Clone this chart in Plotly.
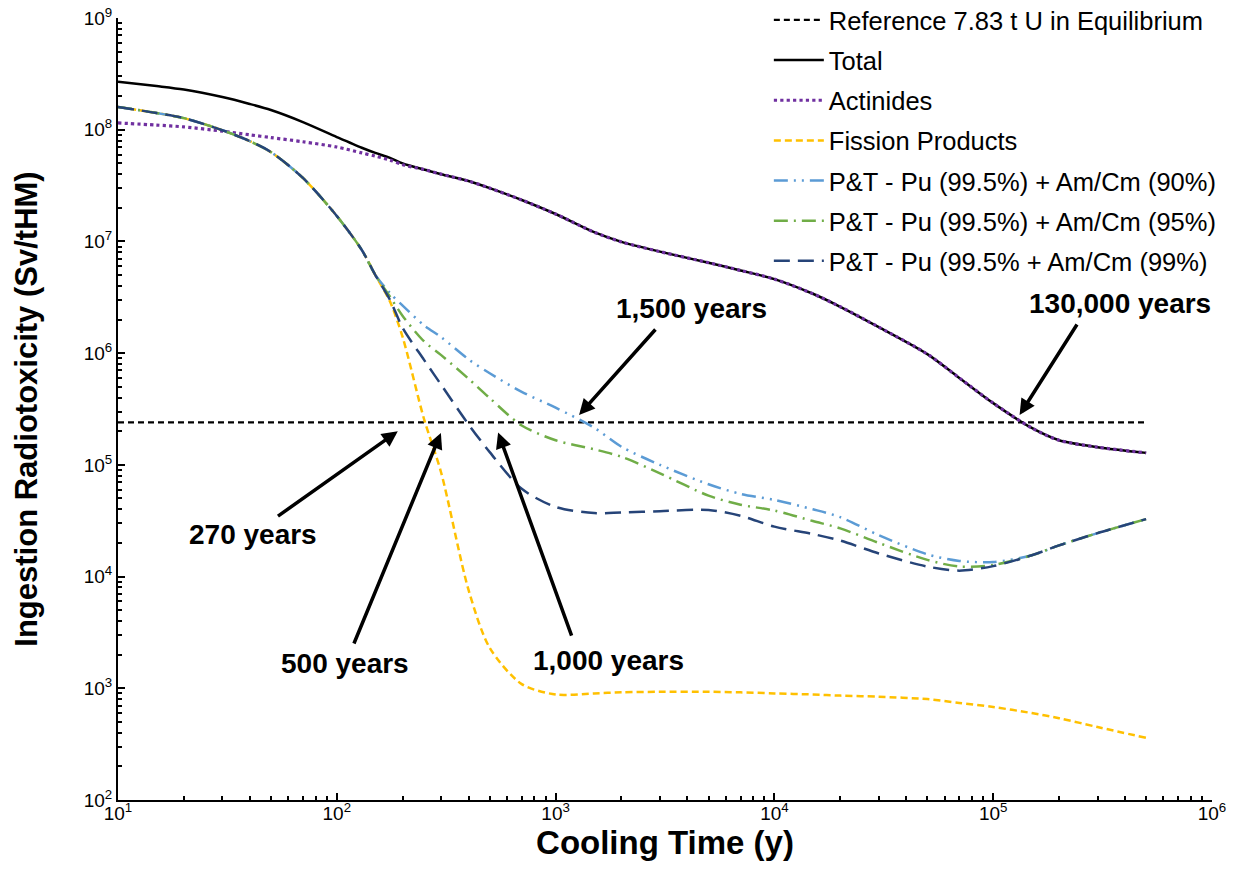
import numpy as np
import plotly.graph_objects as go

# ---------------- data ----------------
time_y = [10, 15, 20, 30, 40, 50, 70, 100, 130, 150, 175, 200, 250, 300, 400, 500, 700,
          1000, 1500, 2000, 3000, 5000, 7000, 1e4, 1.5e4, 2e4, 3e4, 5e4, 7e4, 1e5,
          1.5e5, 2e5, 3e5, 5e5]

total = [2.69e8, 2.46e8, 2.29e8, 1.96e8, 1.70e8, 1.50e8, 1.17e8, 8.6e7, 6.9e7, 6.2e7,
         5.6e7, 5.0e7, 4.4e7, 4.0e7, 3.47e7, 3.0e7, 2.35e7, 1.76e7, 1.21e7, 9.9e6,
         8.1e6, 6.45e6, 5.5e6, 4.6e6, 3.4e6, 2.6e6, 1.71e6, 9.8e5, 6.0e5, 3.57e5,
         2.14e5, 1.66e5, 1.44e5, 1.28e5]

actinides = [1.15e8, 1.10e8, 1.06e8, 9.7e7, 9.0e7, 8.5e7, 7.8e7, 7.0e7, 6.2e7, 5.8e7,
             5.35e7, 4.86e7, 4.4e7, 4.0e7, 3.47e7, 3.0e7, 2.35e7, 1.76e7, 1.21e7, 9.9e6,
             8.1e6, 6.45e6, 5.5e6, 4.6e6, 3.4e6, 2.6e6, 1.71e6, 9.8e5, 6.0e5, 3.57e5,
             2.14e5, 1.66e5, 1.44e5, 1.28e5]

fission_products = [1.60e8, 1.41e8, 1.27e8, 9.9e7, 7.9e7, 6.3e7, 3.7e7, 1.69e7, 8.4e6, 5.0e6,
                    2.9e6, 1.39e6, 2.6e5, 8.5e4, 7.6e3, 2.3e3, 1.09e3, 8.8e2, 9.0e2, 9.2e2,
                    9.3e2, 9.3e2, 9.2e2, 9.0e2, 8.8e2, 8.6e2, 8.4e2, 8.0e2, 7.4e2, 6.8e2,
                    6.0e2, 5.4e2, 4.5e2, 3.6e2]

pt_90 = [1.60e8, 1.41e8, 1.27e8, 9.9e7, 7.9e7, 6.3e7, 3.7e7, 1.69e7, 8.4e6, 5.0e6,
         3.45e6, 2.66e6, 1.78e6, 1.39e6, 8.8e5, 6.6e5, 4.5e5, 3.25e5, 2.15e5, 1.45e5,
         1.0e5, 6.7e4, 5.5e4, 4.85e4, 4.0e4, 3.4e4, 2.35e4, 1.58e4, 1.38e4, 1.35e4,
         1.55e4, 1.9e4, 2.45e4, 3.27e4]

pt_95 = [1.60e8, 1.41e8, 1.27e8, 9.9e7, 7.9e7, 6.3e7, 3.7e7, 1.69e7, 8.4e6, 5.0e6,
         3.2e6, 2.15e6, 1.28e6, 9.6e5, 5.9e5, 3.96e5, 2.25e5, 1.66e5, 1.38e5, 1.18e5,
         8.4e4, 5.3e4, 4.4e4, 3.9e4, 3.14e4, 2.7e4, 2.0e4, 1.41e4, 1.23e4, 1.27e4,
         1.55e4, 1.9e4, 2.45e4, 3.27e4]

pt_99 = [1.60e8, 1.41e8, 1.27e8, 9.9e7, 7.9e7, 6.3e7, 3.7e7, 1.69e7, 8.4e6, 5.0e6,
         3.0e6, 1.68e6, 8.75e5, 5.2e5, 2.3e5, 1.3e5, 6.1e4, 4.2e4, 3.7e4, 3.75e4,
         3.85e4, 3.95e4, 3.5e4, 2.8e4, 2.4e4, 2.1e4, 1.61e4, 1.23e4, 1.13e4, 1.24e4,
         1.55e4, 1.9e4, 2.45e4, 3.27e4]

ref_time = [10, 5e5]
ref_value = [2.4e5, 2.4e5]

x_tickvals = [1e1, 1e2, 1e3, 1e4, 1e5, 1e6]
x_ticktext = ["10<sup>1</sup>", "10<sup>2</sup>", "10<sup>3</sup>", "10<sup>4</sup>",
              "10<sup>5</sup>", "10<sup>6</sup>"]
y_tickvals = [1e2, 1e3, 1e4, 1e5, 1e6, 1e7, 1e8, 1e9]
y_ticktext = ["10<sup>2</sup>", "10<sup>3</sup>", "10<sup>4</sup>", "10<sup>5</sup>",
              "10<sup>6</sup>", "10<sup>7</sup>", "10<sup>8</sup>", "10<sup>9</sup>"]

# annotations: label, arrow tip (years, Sv), arrow tail (years, Sv), label centre (years, Sv)
ann_labels = ["270 years", "500 years", "1,000 years", "1,500 years", "130,000 years"]
ann_tip_x = [190, 299, 546, 1280, 1.32e5]
ann_tip_y = [2.0e5, 1.93e5, 1.95e5, 2.8e5, 2.8e5]
ann_tail_x = [53, 119, 1190, 2900, 2.44e5]
ann_tail_y = [3.4e4, 2.44e3, 2.87e3, 1.68e6, 1.86e6]
ann_text_x = [41.4, 109, 1738, 4200, 3.8e5]
ann_text_y = [2.36e4, 1.68e3, 1.79e3, 2.53e6, 2.81e6]

FONT = "Liberation Sans, Arial, sans-serif"

fig = go.Figure()

series = [
    ("Reference 7.83 t U in Equilibrium", ref_time, ref_value, "black", "6px,4px", 2.2),
    ("Total", time_y, total, "black", "solid", 2.5),
    ("Actinides", time_y, actinides, "#7030A0", "dot", 3.2),
    ("Fission Products", time_y, fission_products, "#FFC000", "7px,4px", 2.5),
    ("P&T - Pu (99.5%) + Am/Cm (90%)", time_y, pt_90, "#5B9BD5", "14px,6px,2px,6px,2px,6px", 2.5),
    ("P&T - Pu (99.5%) + Am/Cm (95%)", time_y, pt_95, "#70AD47", "14px,6px,2px,6px", 2.5),
    ("P&T - Pu (99.5% + Am/Cm (99%)", time_y, pt_99, "#264478", "16px,8px", 2.5),
]

for i, (name, xs, ys, col, dash, w) in enumerate(series):
    fig.add_trace(go.Scatter(
        x=xs, y=ys, name=name, mode="lines",
        line=dict(color=col, dash=dash, width=w, shape="spline", smoothing=0.8),
        legendgroup=f"g{i}",
    ))

for lab, tx, ty, ax, ay, lx, ly in zip(ann_labels, ann_tip_x, ann_tip_y, ann_tail_x,
                                        ann_tail_y, ann_text_x, ann_text_y):
    fig.add_annotation(x=np.log10(tx), y=np.log10(ty), ax=np.log10(ax), ay=np.log10(ay),
                       xref="x", yref="y", axref="x", ayref="y", text="",
                       showarrow=True, arrowhead=2, arrowsize=0.9, arrowwidth=3.5,
                       arrowcolor="black", standoff=0, startstandoff=0)
    fig.add_annotation(x=np.log10(lx), y=np.log10(ly), xref="x", yref="y",
                       text=f"<b>{lab}</b>", showarrow=False,
                       font=dict(family=FONT, size=28, color="black"))

axis_common = dict(
    type="log", showgrid=False, zeroline=False, showline=True, linecolor="black",
    linewidth=2, ticks="inside", ticklen=7, tickwidth=2, tickcolor="black",
    tickfont=dict(family=FONT, size=19, color="black"), automargin=False,
    ticklabeloverflow="allow",
    minor=dict(ticks="inside", ticklen=4, tickwidth=1.5, tickcolor="black", dtick="D1",
               showgrid=False),
)

fig.update_xaxes(range=[1, 6], tickvals=x_tickvals, ticktext=x_ticktext,
                 ticklabelstandoff=-5,
                 title=dict(text="<b>Cooling Time (y)</b>",
                            font=dict(family=FONT, size=33, color="black"), standoff=1),
                 **axis_common)
fig.update_yaxes(range=[2, 9], tickvals=y_tickvals, ticktext=y_ticktext,
                 title=dict(text="<b>Ingestion Radiotoxicity (Sv/tHM)</b>",
                            font=dict(family=FONT, size=31, color="black"), standoff=37),
                 **axis_common)

fig.update_layout(
    width=1233, height=879,
    margin=dict(l=118, r=21, t=18, b=79, autoexpand=False),
    paper_bgcolor="white", plot_bgcolor="white",
    font=dict(family=FONT, color="black"),
    legend=dict(x=1.009, y=1.027, xanchor="right", yanchor="top",
                font=dict(family=FONT, size=25.5, color="black"),
                bgcolor="rgba(0,0,0,0)", tracegroupgap=4, itemwidth=50,
                traceorder="grouped"),
)

fig.write_html("out.html", config={"displayModeBar": False},
               post_script="document.body.style.margin='0px';")
